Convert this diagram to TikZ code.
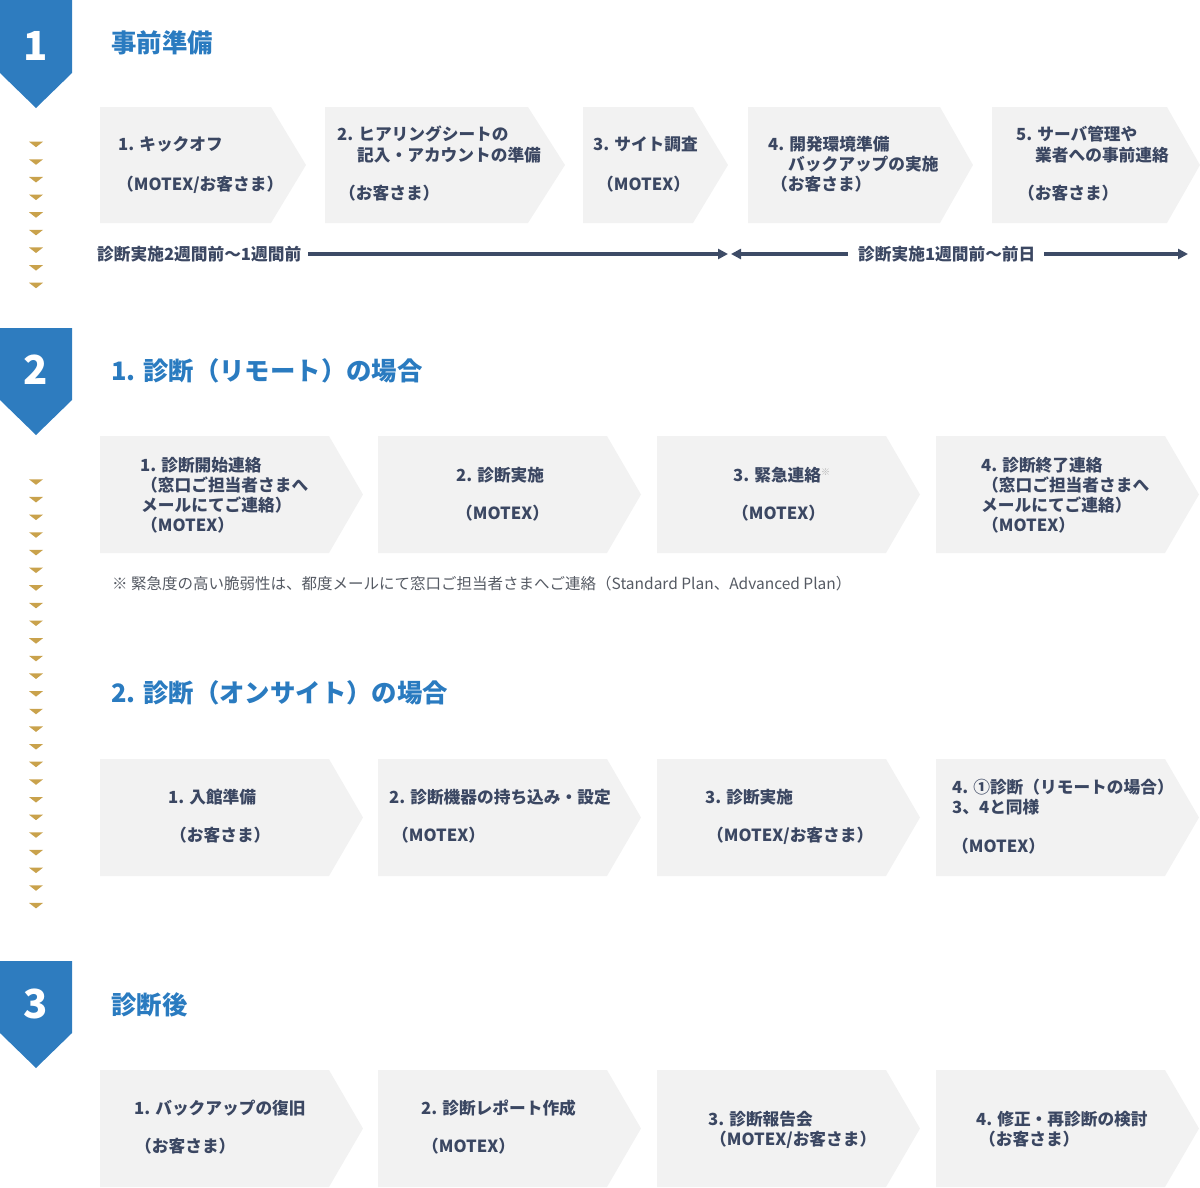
\documentclass[tikz,border=0pt]{standalone}
\usepackage{fontspec}
\setmainfont{Noto Sans CJK JP}
\usetikzlibrary{arrows.meta}
\definecolor{badge}{HTML}{2E7CBF}
\definecolor{ttl}{HTML}{2A7BC0}
\definecolor{gold}{HTML}{C9A24C}
\definecolor{boxfill}{HTML}{F2F2F2}
\definecolor{txt}{HTML}{3B4762}
\definecolor{notec}{HTML}{555A63}
\definecolor{tlc}{HTML}{3D4B66}
\newcommand{\myfs}[1]{\fontsize{#1}{#1}\selectfont}
\newcommand{\chevbox}[6]{% name, xl, xr, xtip, ytop, ybot
  \fill[boxfill] (#2,#5) -- (#3,#5) -- (#4,{(#5+#6)/2}) -- (#3,#6) -- (#2,#6) -- cycle;
  \coordinate (#1) at ({(#2+#3)/2},{(#5+#6)/2});}
\newcommand{\badgeshape}[4]{% name, ytop, yrect, ytip
  \fill[badge] (0,#2) -- (72,#2) -- (72,#3) -- (36,#4) -- (0,#3) -- cycle;
  \coordinate (#1) at (36,{(#2+#3)/2});}
\newcommand{\T}[4]{\node[lbl] (#1) at (#2,{#3+6.3}) {#4};}
\newcommand{\TT}[4]{\node[ttlstyle] (#1) at (#2,{#3+9.6}) {#4};}
\newcommand{\gold}[2]{\fill[gold] (29,#2) -- (43,#2) -- (36,{#2+5.5}) -- cycle; \coordinate (#1) at (36,#2);}
\newcommand{\sml}{{\color{gray!60}\myfs{9}\raisebox{6pt}{※}}}
\begin{document}
\begin{tikzpicture}[x=1pt,y=-1pt,
  lbl/.style={anchor=base west, inner sep=0, text=txt, font=\myfs{16.7}\bfseries},
  ttlstyle/.style={anchor=base west, inner sep=0, text=ttl, font=\myfs{25.4}\bfseries},
  num/.style={anchor=base, inner sep=0, text=white, font=\myfs{40}\bfseries},
  tlline/.style={draw=tlc, line width=3.5pt},
  tip/.style={-{Triangle[length=10pt,width=10pt]}}]
\useasboundingbox (0,0) rectangle (1200,1187);
% badges
\badgeshape{bd1}{0}{73}{108}
\badgeshape{bd2}{328}{400}{435}
\badgeshape{bd3}{961}{1033}{1068}
\node[num] (n1) at (36,{46+14.6}) {1};
\node[num] (n2) at (36,{370+14.6}) {2};
\node[num] (n3) at (36,{1004+14.6}) {3};
% gold markers
\foreach \i in {0,...,8} {\gold{ga\i}{141.7+17.63*\i}}
\foreach \i in {0,...,24} {\gold{gb\i}{479.3+17.65*\i}}
% titles
\TT{t1}{111}{43}{事前準備}
\TT{t2}{111}{371}{1. 診断（リモート）の場合}
\TT{t3}{111}{693}{2. 診断（オンサイト）の場合}
\TT{t4}{111}{1005}{診断後}
% section 1 boxes
\chevbox{p1}{100}{271}{306}{107}{223}
\chevbox{p2}{325}{528}{565}{107}{223}
\chevbox{p3}{583}{693}{728}{107}{223}
\chevbox{p4}{748}{940}{973}{107}{223}
\chevbox{p5}{992}{1167}{1200}{107}{223}
\T{p1a}{118}{144}{1. キックオフ}
\T{p1b}{117}{184}{（MOTEX/お客さま）}
\T{p2a}{337}{134}{2. ヒアリングシートの}
\T{p2b}{357}{155}{記入・アカウントの準備}
\T{p2c}{339}{193}{（お客さま）}
\T{p3a}{593}{144}{3. サイト調査}
\T{p3b}{597}{184}{（MOTEX）}
\T{p4a}{768}{144}{4. 開発環境準備}
\T{p4b}{788}{164}{バックアップの実施}
\T{p4c}{771}{184}{（お客さま）}
\T{p5a}{1016}{134}{5. サーバ管理や}
\T{p5b}{1035}{155}{業者への事前連絡}
\T{p5c}{1018}{193}{（お客さま）}
% timeline
\T{tlA}{97}{254}{診断実施2週間前～1週間前}
\T{tlB}{858}{254}{診断実施1週間前～前日}
\coordinate (tl1) at (728,254);
\coordinate (tl2) at (731,254);
\coordinate (tl3) at (1188,254);
\coordinate (tlAe) at (308,254);
\coordinate (tlBw) at (848,254);
\coordinate (tlBe) at (1044,254);
\draw[tlline,tip] (tlAe) -- (tl1);
\draw[tlline,tip] (tlBw) -- (tl2);
\draw[tlline,tip] (tlBe) -- (tl3);
% section 2 remote
\chevbox{r1}{100}{329}{363}{436}{553}
\chevbox{r2}{378}{607}{641}{436}{553}
\chevbox{r3}{657}{886}{920}{436}{553}
\chevbox{r4}{936}{1165}{1199}{436}{553}
\T{r1a}{140}{465}{1. 診断開始連絡}
\T{r1b}{141}{485}{（窓口ご担当者さまへ}
\T{r1c}{141}{505}{メールにてご連絡）}
\T{r1d}{141}{525}{（MOTEX）}
\T{r2a}{456}{475}{2. 診断実施}
\T{r2b}{456}{513}{（MOTEX）}
\T{r3a}{733}{475}{3. 緊急連絡\sml}
\T{r3b}{732}{513}{（MOTEX）}
\T{r4a}{981}{465}{4. 診断終了連絡}
\T{r4b}{982}{485}{（窓口ご担当者さまへ}
\T{r4c}{981}{505}{メールにてご連絡）}
\T{r4d}{982}{525}{（MOTEX）}
\node[anchor=base west, inner sep=0, text=notec, font=\myfs{15.5}] (note) at (112,{584+5.8}) {※ 緊急度の高い脆弱性は、都度メールにて窓口ご担当者さまへご連絡（Standard Plan、Advanced Plan）};
% section 2 onsite
\chevbox{o1}{100}{329}{363}{759}{876}
\chevbox{o2}{378}{607}{641}{759}{876}
\chevbox{o3}{657}{886}{920}{759}{876}
\chevbox{o4}{936}{1165}{1199}{759}{876}
\T{o1a}{168}{797}{1. 入館準備}
\T{o1b}{170}{835}{（お客さま）}
\T{o2a}{389}{797}{2. 診断機器の持ち込み・設定}
\T{o2b}{392}{835}{（MOTEX）}
\T{o3a}{705}{797}{3. 診断実施}
\T{o3b}{707}{835}{（MOTEX/お客さま）}
\T{o4a}{952}{787}{4. ①診断（リモートの場合）}
\T{o4b}{952}{807}{3、4と同様}
\T{o4c}{952}{846}{（MOTEX）}
% section 3
\chevbox{a1}{100}{329}{363}{1070}{1187}
\chevbox{a2}{378}{607}{641}{1070}{1187}
\chevbox{a3}{657}{886}{920}{1070}{1187}
\chevbox{a4}{936}{1165}{1199}{1070}{1187}
\T{a1a}{134}{1108}{1. バックアップの復旧}
\T{a1b}{135}{1146}{（お客さま）}
\T{a2a}{421}{1108}{2. 診断レポート作成}
\T{a2b}{422}{1146}{（MOTEX）}
\T{a3a}{708}{1119}{3. 診断報告会}
\T{a3b}{710}{1139}{（MOTEX/お客さま）}
\T{a4a}{976}{1119}{4. 修正・再診断の検討}
\T{a4b}{979}{1139}{（お客さま）}
\end{tikzpicture}
\end{document}
